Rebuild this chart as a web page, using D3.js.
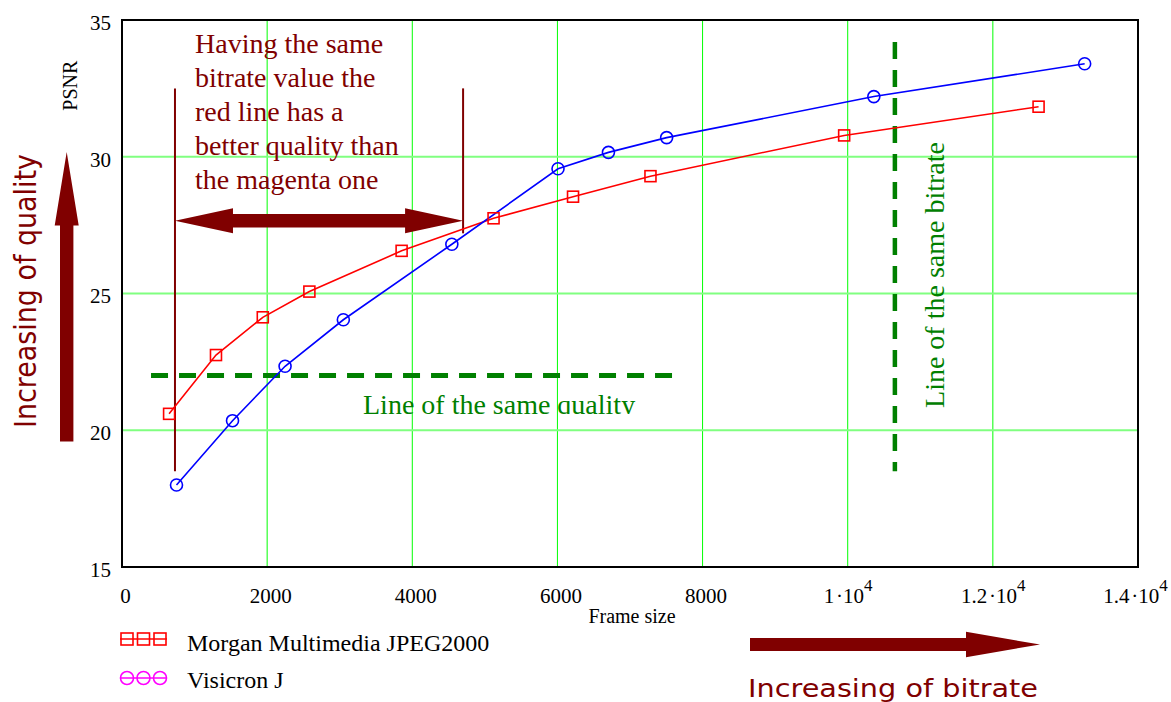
<!DOCTYPE html>
<html>
<head>
<meta charset="utf-8">
<script src="https://cdn.jsdelivr.net/npm/d3@7"></script>
<style>
  html, body { margin: 0; padding: 0; background: #fff; }
  svg { display: block; }
</style>
</head>
<body>
<svg id="chart" width="1171" height="702"></svg>
<script>
// ---------------- data ----------------
const morganX   = [649, 1295, 1940, 2582, 3853, 5120, 6215, 7282, 9951, 12630];
const morganY   = [20.6, 22.75, 24.13, 25.07, 26.56, 27.75, 28.54, 29.29, 30.78, 31.83];
const visicronX = [751, 1523, 2247, 3050, 4545, 6008, 6703, 7505, 10360, 13265];
const visicronY = [18.0, 20.35, 22.34, 24.04, 26.8, 29.56, 30.16, 30.7, 32.2, 33.4];
const xTicks = [0, 2000, 4000, 6000, 8000, 10000, 12000, 14000];
const yTicks = [15, 20, 25, 30, 35];
const seriesNames = ["Morgan Multimedia JPEG2000", "Visicron J"];
const noteLines = ["Having the same", "bitrate value the", "red line has a", "better quality than", "the magenta one"];

// ---------------- layout ----------------
const svg = d3.select("#chart");
const L = 122, R = 1138, T = 20, B = 567;
const x = d3.scaleLinear().domain([0, 14000]).range([L, R]);
const y = d3.scaleLinear().domain([15, 35]).range([B, T]);
const serif = "'Liberation Serif','Times New Roman',serif";
const comic = "'Comic Sans MS','DejaVu Sans',sans-serif";
const dark = "#800000", green = "#008000";

// grid
svg.append("g").selectAll("line").data(xTicks.filter(d => d > 0 && d < 14000)).join("line")
  .attr("x1", d => x(d)).attr("x2", d => x(d)).attr("y1", T).attr("y2", B)
  .attr("stroke", "#00ff00").attr("stroke-width", 1);
svg.append("g").selectAll("line").data(yTicks.filter(d => d > 15 && d < 35)).join("line")
  .attr("x1", L).attr("x2", R).attr("y1", d => y(d)).attr("y2", d => y(d))
  .attr("stroke", "#80ff80").attr("stroke-width", 2);

// axes (labels only)
const xAxis = svg.append("g").attr("transform", `translate(0,${B})`)
  .call(d3.axisBottom(x).tickValues(xTicks).tickSize(0).tickPadding(0).tickFormat(""));
xAxis.select(".domain").remove();
xAxis.selectAll(".tick text").each(function(d) {
  const t = d3.select(this).attr("y", 36).attr("dy", null)
    .attr("font-family", serif).attr("font-size", 21).attr("fill", "#000");
  if (d >= 10000) {
    const m = d / 10000;
    t.attr("dx", d >= 14000 ? -3 : 0);
    t.append("tspan").text(m + "\u200A\u00B710");
    t.append("tspan").attr("dy", -12).attr("font-size", 17).text("4");
  } else {
    t.attr("dx", 3).text(d);
  }
});
const yAxis = svg.append("g").attr("transform", `translate(${L},0)`)
  .call(d3.axisLeft(y).tickValues(yTicks).tickSize(0).tickPadding(11));
yAxis.select(".domain").remove();
yAxis.selectAll(".tick text").attr("font-family", serif).attr("font-size", 21)
  .attr("fill", "#000").attr("dy", "0.45em");

// frame
svg.append("rect").attr("x", L).attr("y", T).attr("width", R - L).attr("height", B - T)
  .attr("fill", "none").attr("stroke", "#000").attr("stroke-width", 2);

// axis titles
svg.append("text").attr("transform", `translate(77,${y(32.6)}) rotate(-90)`)
  .attr("text-anchor", "middle").attr("font-family", serif).attr("font-size", 20).text("PSNR");
svg.append("text").attr("x", 632).attr("y", 623).attr("text-anchor", "middle")
  .attr("font-family", serif).attr("font-size", 20).text("Frame size");

// ---------------- annotations (under series) ----------------
svg.append("line").attr("x1", x(730)).attr("x2", x(730)).attr("y1", y(32.5)).attr("y2", y(18.5))
  .attr("stroke", dark).attr("stroke-width", 2);
svg.append("line").attr("x1", x(4700)).attr("x2", x(4700)).attr("y1", y(32.5)).attr("y2", y(27.2))
  .attr("stroke", dark).attr("stroke-width", 2);
(function() {
  const x0 = x(730), x1 = x(4700), cy = y(27.66), hl = 58, hh = 12.5, sh = 6.7;
  const p = [[x0, cy], [x0 + hl, cy - hh], [x0 + hl, cy - sh], [x1 - hl, cy - sh], [x1 - hl, cy - hh],
             [x1, cy], [x1 - hl, cy + hh], [x1 - hl, cy + sh], [x0 + hl, cy + sh], [x0 + hl, cy + hh]];
  svg.append("path").attr("d", d3.line()(p) + "Z").attr("fill", dark);
})();
svg.append("text").attr("font-family", serif).attr("font-size", 28).attr("fill", dark)
  .selectAll("tspan").data(noteLines).join("tspan")
  .attr("x", 195).attr("y", (d, i) => 53 + i * 34).text(d => d);

svg.append("line").attr("x1", x(400)).attr("x2", x(7600)).attr("y1", y(22)).attr("y2", y(22))
  .attr("stroke", green).attr("stroke-width", 5).attr("stroke-dasharray", "17 11");
svg.append("line").attr("x1", x(10650)).attr("x2", x(10650)).attr("y1", y(34.2)).attr("y2", y(18.5))
  .attr("stroke", green).attr("stroke-width", 4.5).attr("stroke-dasharray", "17 11");
svg.append("clipPath").attr("id", "qclip").append("rect")
  .attr("x", 300).attr("y", 380).attr("width", 420).attr("height", 34);
svg.append("text").attr("x", 363).attr("y", 414).attr("clip-path", "url(#qclip)")
  .attr("font-family", serif).attr("font-size", 28).attr("fill", green).text("Line of the same quality");
svg.append("text").attr("transform", "translate(944,275) rotate(-90)").attr("text-anchor", "middle")
  .attr("font-family", serif).attr("font-size", 28).attr("fill", green).text("Line of the same bitrate");

// ---------------- series ----------------
const morgan = morganX.map((v, i) => [v, morganY[i]]);
const visicron = visicronX.map((v, i) => [v, visicronY[i]]);
const line = d3.line().x(d => x(d[0])).y(d => y(d[1]));
svg.append("path").datum(morgan).attr("d", line).attr("fill", "none").attr("stroke", "#ff0000").attr("stroke-width", 1.6);
svg.append("path").datum(visicron).attr("d", line).attr("fill", "none").attr("stroke", "#0000ff").attr("stroke-width", 1.6);
svg.append("g").selectAll("rect").data(morgan).join("rect")
  .attr("x", d => x(d[0]) - 5.5).attr("y", d => y(d[1]) - 5.5).attr("width", 11).attr("height", 11)
  .attr("fill", "none").attr("stroke", "#ff0000").attr("stroke-width", 1.6);
svg.append("g").selectAll("circle").data(visicron).join("circle")
  .attr("cx", d => x(d[0])).attr("cy", d => y(d[1])).attr("r", 6)
  .attr("fill", "none").attr("stroke", "#0000ff").attr("stroke-width", 1.6);

// ---------------- big arrows ----------------
(function() {
  const cx = 66.7, yb = 441.5, yhb = 225.5, yt = 152, sw = 6.7, hw = 12;
  const p = [[cx - sw, yb], [cx - sw, yhb], [cx - hw, yhb], [cx, yt], [cx + hw, yhb], [cx + sw, yhb], [cx + sw, yb]];
  svg.append("path").attr("d", d3.line()(p) + "Z").attr("fill", dark);
})();
svg.append("text").attr("transform", "translate(36,291) rotate(-90)").attr("text-anchor", "middle")
  .attr("font-family", comic).attr("font-size", 30).attr("fill", dark)
  .attr("textLength", 274).attr("lengthAdjust", "spacingAndGlyphs").text("Increasing of quality");
(function() {
  const cy = 644.5, xl = 750, xhb = 966, xt = 1040, sw = 6.5, hw = 12.7;
  const p = [[xl, cy - sw], [xhb, cy - sw], [xhb, cy - hw], [xt, cy], [xhb, cy + hw], [xhb, cy + sw], [xl, cy + sw]];
  svg.append("path").attr("d", d3.line()(p) + "Z").attr("fill", dark);
})();
svg.append("text").attr("x", 893).attr("y", 697).attr("text-anchor", "middle")
  .attr("font-family", comic).attr("font-size", 25).attr("fill", dark)
  .attr("textLength", 290).attr("lengthAdjust", "spacingAndGlyphs").text("Increasing of bitrate");

// ---------------- legend ----------------
const legend = svg.append("g");
const lx = [127, 143.5, 160];
const legendRows = [{name: seriesNames[0], color: "#ff0000", sym: "square", cy: 639, by: 651},
                    {name: seriesNames[1], color: "#ff00ff", sym: "circle", cy: 678, by: 688}];
legendRows.forEach(r => {
  legend.append("line").attr("x1", 120).attr("x2", 167).attr("y1", r.cy).attr("y2", r.cy)
    .attr("stroke", r.color).attr("stroke-width", 1.6);
  lx.forEach(cx => {
    if (r.sym === "square") {
      legend.append("rect").attr("x", cx - 6).attr("y", r.cy - 6).attr("width", 12).attr("height", 12)
        .attr("fill", "none").attr("stroke", r.color).attr("stroke-width", 1.6);
    } else {
      legend.append("circle").attr("cx", cx).attr("cy", r.cy).attr("r", 6.5)
        .attr("fill", "none").attr("stroke", r.color).attr("stroke-width", 1.6);
    }
  });
  legend.append("text").attr("x", 187).attr("y", r.by).attr("font-family", serif).attr("font-size", 24)
    .text(r.name);
});
</script>
</body>
</html>
